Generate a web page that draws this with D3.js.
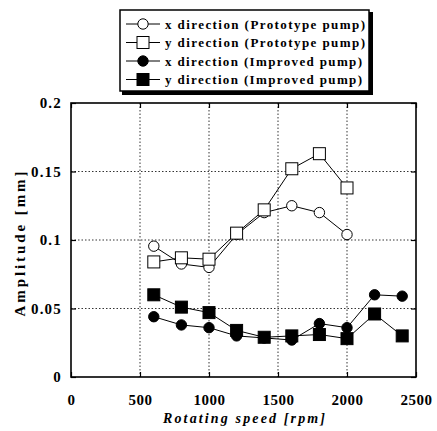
<!DOCTYPE html>
<html><head><meta charset="utf-8">
<script src="https://cdn.jsdelivr.net/npm/d3@7"></script>
<style>body{margin:0;background:#fff}</style>
</head><body>
<svg id="c" width="437" height="431"></svg>
<script>
const xTicks = [0, 500, 1000, 1500, 2000, 2500];
const yTicks = [0, 0.05, 0.1, 0.15, 0.2];
const speedsProto = [600, 800, 1000, 1200, 1400, 1600, 1800, 2000];
const speedsImproved = [600, 800, 1000, 1200, 1400, 1600, 1800, 2000, 2200, 2400];
const xProto = [0.0955, 0.0825, 0.080, 0.104, 0.120, 0.125, 0.120, 0.104];
const yProto = [0.084, 0.087, 0.086, 0.105, 0.122, 0.152, 0.163, 0.138];
const xImproved = [0.044, 0.038, 0.036, 0.030, 0.0285, 0.027, 0.039, 0.036, 0.060, 0.059];
const yImproved = [0.060, 0.051, 0.047, 0.034, 0.029, 0.030, 0.031, 0.028, 0.046, 0.030];
const seriesNames = ["x direction (Prototype pump)", "y direction (Prototype pump)", "x direction (Improved pump)", "y direction (Improved pump)"];

const series = [
  {name: seriesNames[0], xs: speedsProto, vals: xProto, shape: "circle", fill: "#fff"},
  {name: seriesNames[1], xs: speedsProto, vals: yProto, shape: "square", fill: "#fff"},
  {name: seriesNames[2], xs: speedsImproved, vals: xImproved, shape: "circle", fill: "#000"},
  {name: seriesNames[3], xs: speedsImproved, vals: yImproved, shape: "square", fill: "#000"}
];

const svg = d3.select("#c");
const L = 71, R = 416, T = 103, B = 377;
const x = d3.scaleLinear().domain([0, 2500]).range([L, R]);
const y = d3.scaleLinear().domain([0, 0.2]).range([B, T]);
const font = "'Liberation Serif','DejaVu Serif',serif";

// grid
svg.append("g").selectAll("line").data(yTicks.slice(1, -1)).join("line")
  .attr("x1", L).attr("x2", R).attr("y1", d => y(d)).attr("y2", d => y(d))
  .attr("stroke", "#000").attr("stroke-width", 0.8).attr("stroke-dasharray", "1.5,2");
svg.append("g").selectAll("line").data(xTicks.slice(1, -1)).join("line")
  .attr("y1", T).attr("y2", B).attr("x1", d => x(d)).attr("x2", d => x(d))
  .attr("stroke", "#000").attr("stroke-width", 0.8).attr("stroke-dasharray", "1.5,2");

// frame
svg.append("rect").attr("x", L).attr("y", T).attr("width", R - L).attr("height", B - T)
  .attr("fill", "none").attr("stroke", "#000").attr("stroke-width", 1.6);

// axes with inward ticks
const ax = svg.append("g").attr("transform", `translate(0,${B})`)
  .call(d3.axisBottom(x).tickValues(xTicks).tickSize(-5).tickPadding(0).tickFormat(d3.format("d")));
ax.selectAll("text").attr("dy", null).attr("y", 28);
const ay = svg.append("g").attr("transform", `translate(${L},0)`)
  .call(d3.axisLeft(y).tickValues(yTicks).tickSize(-5).tickPadding(9).tickFormat(d => d === 0 ? "0" : String(d)));
svg.append("g").attr("transform", `translate(0,${T})`)
  .call(d3.axisTop(x).tickValues(xTicks).tickSize(-5).tickFormat(""));
svg.append("g").attr("transform", `translate(${R},0)`)
  .call(d3.axisRight(y).tickValues(yTicks).tickSize(-5).tickFormat(""));
svg.selectAll(".domain").remove();
svg.selectAll(".tick line").attr("stroke", "#000").attr("stroke-width", 1.2);
[ax, ay].forEach(g => g.selectAll("text").attr("font-family", font).attr("font-weight", "bold")
  .attr("font-size", 15).attr("fill", "#000"));
ay.selectAll("text").attr("letter-spacing", 1.2);
ax.selectAll("text").attr("letter-spacing", 0.5);

// axis titles
svg.append("text").attr("x", 244).attr("y", 423).attr("text-anchor", "middle")
  .attr("font-family", font).attr("font-style", "italic").attr("font-weight", "bold").attr("font-size", 14)
  .attr("textLength", 162).attr("lengthAdjust", "spacing")
  .text("Rotating speed [rpm]");
svg.append("text").attr("transform", `translate(25,244) rotate(-90)`)
  .attr("text-anchor", "middle").attr("font-family", font).attr("font-weight", "bold").attr("font-size", 15)
  .attr("textLength", 145).attr("lengthAdjust", "spacing")
  .text("Amplitude [mm]");

// markers
function marker(g, shape, fill, cx, cy) {
  if (shape === "circle") {
    g.append("circle").attr("cx", cx).attr("cy", cy).attr("r", 5.2)
      .attr("fill", fill).attr("stroke", "#000").attr("stroke-width", 1);
  } else {
    g.append("rect").attr("x", cx - 6).attr("y", cy - 6).attr("width", 12).attr("height", 12)
      .attr("fill", fill).attr("stroke", "#000").attr("stroke-width", 1);
  }
}

const line = d3.line().x(d => x(d[0])).y(d => y(d[1]));
series.forEach(s => {
  const pts = s.xs.map((v, i) => [v, s.vals[i]]);
  svg.append("path").attr("d", line(pts)).attr("fill", "none").attr("stroke", "#000").attr("stroke-width", 1);
  const g = svg.append("g");
  pts.forEach(p => marker(g, s.shape, s.fill, x(p[0]), y(p[1])));
});

// legend
const lg = svg.append("g");
lg.append("rect").attr("x", 122).attr("y", 12).attr("width", 251).attr("height", 83)
  .attr("fill", "#000");
lg.append("rect").attr("x", 120).attr("y", 10).attr("width", 249).attr("height", 81)
  .attr("fill", "#fff").attr("stroke", "#000").attr("stroke-width", 1.5);
series.forEach((s, i) => {
  const cy = 24 + i * 18.5;
  lg.append("line").attr("x1", 126).attr("x2", 160).attr("y1", cy).attr("y2", cy)
    .attr("stroke", "#000").attr("stroke-width", 1);
  marker(lg, s.shape, s.fill, 143, cy);
  lg.append("text").attr("x", 165).attr("y", cy + 4.5).attr("font-family", font)
    .attr("font-weight", "bold").attr("font-size", 13)
    .attr("textLength", i < 2 ? 200 : 197).attr("lengthAdjust", "spacing").text(s.name);
});
</script>
</body></html>
